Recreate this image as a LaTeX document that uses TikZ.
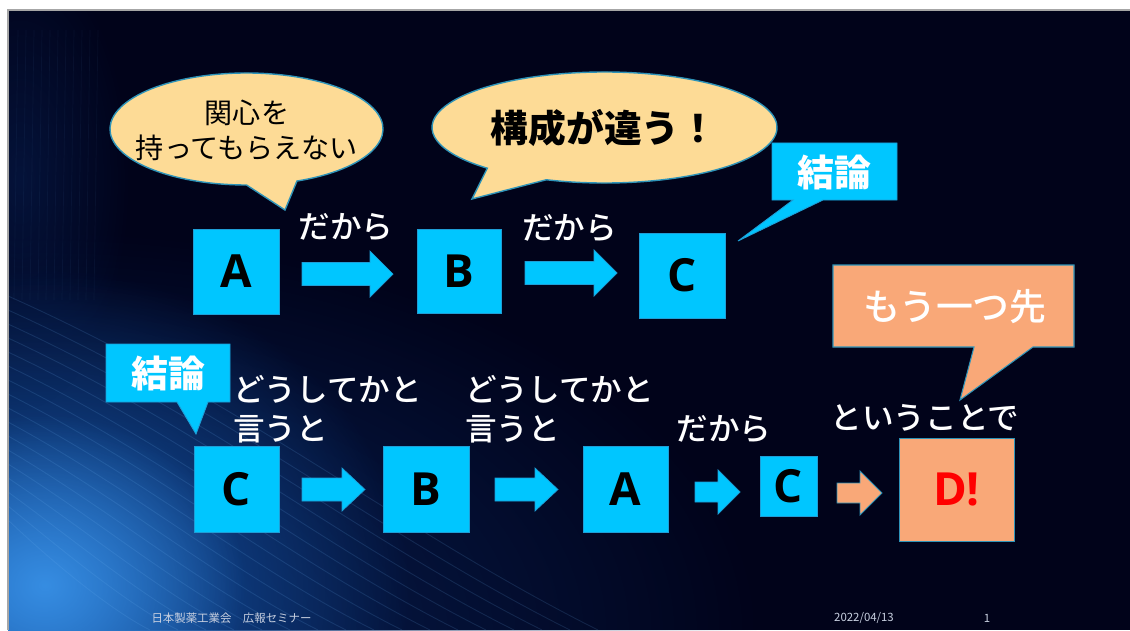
\documentclass[tikz,border=0pt]{standalone}
\usepackage{fontspec}
\setmainfont{Noto Sans CJK JP}
\newfontfamily\latinfont{Open Sans}
\newfontfamily\medfont{Noto Sans CJK JP Medium}
\usetikzlibrary{calc,fadings}
\definecolor{bg}{HTML}{01031A}
\definecolor{cy}{HTML}{00C6FF}
\definecolor{cyedge}{HTML}{1E9ED6}
\definecolor{cream}{HTML}{FDDB96}
\definecolor{orng}{HTML}{F9A878}
\definecolor{tealedge}{HTML}{2E93B8}
\definecolor{foot}{HTML}{C8D0E0}
\definecolor{glowA}{RGB}{8,35,90}
\definecolor{glowB}{RGB}{22,90,175}
\definecolor{glowC}{RGB}{60,150,235}
\definecolor{streak}{RGB}{110,180,245}
\tikzfading[name=glow, inner color=transparent!0, outer color=transparent!100]
\newcommand{\blockarr}[7]{\filldraw[#1] (#2,#5-#6) -- (#3,#5-#6) -- (#3,#5-#7) -- (#4,#5) -- (#3,#5+#7) -- (#3,#5+#6) -- (#2,#5+#6) -- cycle;}
\begin{document}
\begin{tikzpicture}[x=0.02cm,y=0.02cm,
  box/.style={draw=cyedge, line width=0.5pt, fill=cy, inner sep=0pt, text=black, font=\fontsize{26}{30}\selectfont\latinfont\bfseries},
  lbl/.style={text=white, inner sep=0pt, font=\fontsize{18}{22}\selectfont\medfont},
  bubtxt/.style={text=black, inner sep=0pt, align=center},
  ctxt/.style={text=white, inner sep=0pt, font=\fontsize{21}{25}\selectfont\bfseries},
  cyshape/.style={fill=cy, draw=cyedge, line width=0.5pt},
  orshape/.style={fill=orng, draw=tealedge, line width=0.6pt},
  bubble/.style={fill=cream, draw=tealedge, line width=0.8pt},
  cyarrow/.style={fill=cy, draw=cyedge, line width=0.4pt},
  orarrow/.style={fill=orng, draw=tealedge, line width=0.5pt},
  foottxt/.style={text=foot, inner sep=0pt, font=\fontsize{6.5}{8}\selectfont}]
\useasboundingbox (0,0) rectangle (1130,630);
% background
\fill[white] (0,0) rectangle (1130,630);
\fill[bg] (8,0) rectangle (1130,620);
\begin{scope}
  \clip (8,0) rectangle (1130,620);
  \fill[glowA, path fading=glow] (40,0) ellipse [x radius=720, y radius=400];
  \fill[glowB, path fading=glow] (40,40) ellipse [x radius=370, y radius=320];
  \fill[glowC, path fading=glow, opacity=.85] (45,45) ellipse [x radius=200, y radius=170];
  \fill[glowA, path fading=glow, opacity=.5] (20,450) ellipse [x radius=110, y radius=230];
  \foreach \k in {0,...,16} {
    \draw[streak, opacity=.15, line width=.5pt]
      (8,110+\k*14) .. controls (50+\k*12,70+\k*10) and (110+\k*18,20+\k*5) .. (150+\k*28,0);
  }
  \foreach \k in {0,...,10} {
    \draw[streak, opacity=.05, line width=.4pt] (14+\k*8,330) -- (18+\k*8,600);
  }
\end{scope}
\draw[gray!70, line width=1pt] (8,0) -- (8,620) -- (1130,620);

% speech bubble 1
\filldraw[bubble] ($(246.5,501)+(-68.3:136.5 and 56)$) arc[start angle=-68.3, end angle=270, x radius=136.5, y radius=56] -- (285,420) -- cycle;
\node[bubtxt, font=\fontsize{16}{19.8}\selectfont] (t1) at (247,499.5) {関心を\\持ってもらえない};

% speech bubble 2
\filldraw[bubble] ($(604.5,502.5)+(250.3:172.5 and 55.5)$) arc[start angle=250.3, end angle=587.2, x radius=172.5, y radius=55.5] -- (472,431) -- cycle;
\node[bubtxt, font=\fontsize{21.5}{25}\selectfont\bfseries] (t2) at (604,502) {構成が違う！};

% callout top 結論
\filldraw[cyshape] (772,430) -- (793,430) -- (738,389) -- (823,430) -- (897,430) -- (897,487) -- (772,487) -- cycle;
\node[ctxt] (k1) at (834,458) {結論};

% callout bottom 結論
\filldraw[cyshape] (106,228) -- (177,228) -- (196,196) -- (208,228) -- (230,228) -- (230,286) -- (106,286) -- cycle;
\node[ctxt] (k2) at (168,257) {結論};

% callout もう一つ先
\filldraw[orshape] (833,283) -- (974,283) -- (960,230) -- (1033,283) -- (1074,283) -- (1074,365) -- (833,365) -- cycle;
\node[text=white, inner sep=0pt, font=\fontsize{21}{25}\selectfont\medfont] (m1) at (955,323) {もう一つ先};

% top row
\node[box, minimum width=1.72cm, minimum height=1.70cm] (a1) at (236,358.5) {A};
\node[box, minimum width=1.68cm, minimum height=1.68cm] (b1) at (459,359) {B};
\node[box, minimum width=1.72cm, minimum height=1.70cm] (c1) at (682,354.5) {C};
\blockarr{cyarrow}{302}{370}{393}{356}{11.5}{23}
\blockarr{cyarrow}{525}{594}{617}{357}{11.5}{23}
\node[lbl] (l1) at (346,402.5) {だから};
\node[lbl] (l2) at (569.5,402) {だから};

% bottom row
\node[box, minimum width=1.70cm, minimum height=1.72cm] (c2) at (236.5,141) {C};
\node[box, minimum width=1.72cm, minimum height=1.72cm] (b2) at (426,141) {B};
\node[box, minimum width=1.70cm, minimum height=1.72cm] (a2) at (625.5,141) {A};
\node[box, minimum width=1.14cm, minimum height=1.20cm] (c3) at (788.5,144) {C};
\node[box, draw=tealedge, fill=orng, text={rgb,255:red,255;green,0;blue,0}, minimum width=2.30cm, minimum height=2.06cm] (d) at (956.5,140.5) {D!};
\blockarr{cyarrow}{302}{342}{365}{140.5}{11.5}{21.5}
\blockarr{cyarrow}{495}{535}{558}{140.5}{11.5}{21.5}
\blockarr{cyarrow}{695}{718}{740}{138}{10}{22}
\blockarr{orarrow}{837}{860}{882}{137}{10}{22}
\node[lbl, align=left, anchor=west] (q1) at (233,220.5) {どうしてかと\\言うと};
\node[lbl, align=left, anchor=west] (q2) at (465,220.5) {どうしてかと\\言うと};
\node[lbl] (l3) at (724,201) {だから};
\node[lbl] (l4) at (925,212) {ということで};

% footer
\node[foottxt] (f1) at (231.5,12) {日本製薬工業会　広報セミナー};
\node[foottxt] (f2) at (864,12) {2022/04/13};
\node[foottxt] (f3) at (987,12) {1};
\end{tikzpicture}
\end{document}
